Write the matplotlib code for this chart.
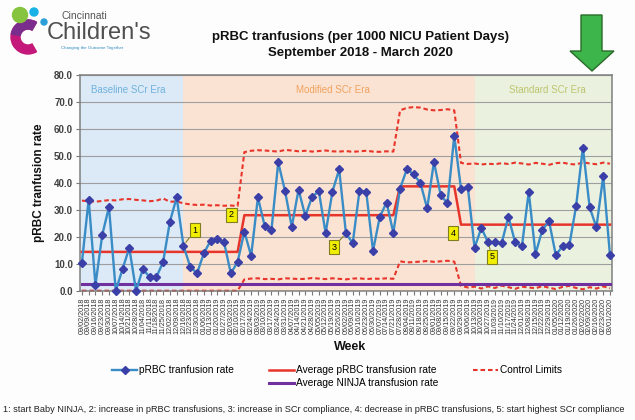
import numpy as np
import pandas as pd
import matplotlib
matplotlib.use("Agg")
import matplotlib.pyplot as plt
from matplotlib.lines import Line2D
from matplotlib.patches import Polygon, Circle, Wedge

plt.rcParams['font.family'] = ['Liberation Sans', 'DejaVu Sans']

# ---- data -------------------------------------------------------------
week_labels = pd.date_range("2018-09-02", periods=79, freq="7D").strftime("%m/%d/%Y").tolist()

prbc_rate = [10.4, 33.8, 2.1, 20.6, 31.1, 0.0, 8.0, 15.9, 0.0, 8.0,
             5.1, 5.0, 10.7, 25.6, 34.6, 16.7, 8.9, 6.4, 13.8, 18.5,
             19.1, 17.9, 6.4, 10.7, 21.9, 12.9, 34.6, 24.0, 22.5, 47.6,
             37.0, 23.7, 37.5, 27.7, 34.8, 36.9, 21.3, 36.7, 45.0, 21.3,
             17.6, 37.0, 36.7, 14.8, 27.4, 32.7, 21.5, 37.9, 45.1, 43.1,
             40.0, 30.5, 47.8, 35.4, 32.4, 57.4, 37.7, 38.5, 15.9, 23.3,
             17.9, 17.9, 17.6, 27.4, 17.9, 16.5, 36.7, 13.6, 22.5, 25.8,
             13.2, 16.5, 16.9, 31.4, 53.1, 30.9, 23.5, 42.5, 13.2]

# centre line: one mean per phase, held for the weeks of that phase
avg_levels = [14.4, 28.0, 38.7, 24.5]
avg_weeks = [24, 23, 9, 23]
avg_prbc = np.repeat(avg_levels, avg_weeks)

ninja_avg = [2.3] * 79

ucl = [33.4, 33.2, 33.0, 33.3, 33.6, 33.5, 33.9, 34.0, 33.7, 33.5,
       33.2, 33.4, 34.2, 33.0, 33.1, 32.4, 32.0, 31.8, 31.9, 31.6,
       31.7, 31.5, 31.6, 31.4,
       51.4, 51.9, 52.1, 52.0, 51.8, 51.6, 52.2, 52.0, 51.7, 51.9,
       51.6, 51.8, 52.0, 51.7, 51.6, 51.8, 51.5, 51.7, 51.9, 51.6,
       51.5, 51.7, 51.6,
       66.9, 67.8, 68.1, 67.9, 67.2, 66.9, 67.0, 67.3, 66.9,
       47.4, 47.0, 47.2, 46.8, 47.1, 46.9, 47.3, 47.0, 47.5, 47.2,
       46.8, 47.4, 47.1, 46.7, 47.3, 47.5, 47.0, 46.8, 47.6, 47.2,
       46.9, 47.5, 47.1]

lcl = [0.0] * 24 + \
      [4.2, 4.5, 4.6, 4.3, 4.4, 4.2, 4.6, 4.5, 4.3, 4.4,
       4.7, 4.5, 4.3, 4.6, 4.4, 4.2, 4.5, 4.6, 4.3, 4.5,
       4.4, 4.6, 4.4,
       10.9, 10.5, 10.6, 10.8, 11.0, 10.7, 10.9, 11.1, 10.8,
       1.8, 1.2, 1.5, 0.8, 1.6, 1.0, 1.9, 1.3, 0.7, 1.5,
       1.2, 0.9, 1.7, 1.1, 0.6, 1.4, 1.8, 1.0, 0.5, 1.3,
       0.8, 1.6, 0.9]

era_names = ["Baseline SCr Era", "Modified SCr Era", "Standard SCr Era"]
era_spans = [(-0.28, 15.0), (15.0, 58.0), (58.0, 78.3)]
era_fill = ["#DCE9F6", "#FBE3D3", "#EBF1DF"]
era_text = ["#6FB2DD", "#F0A25E", "#BCC46E"]
era_label_x = [6.8, 37.1, 68.8]

# numbered notes: label, box position (week, rate), week pointed at (None = no leader)
note_labels = ["1", "2", "3", "4", "5"]
note_box_x = [16.7, 22.1, 37.2, 54.8, 60.6]
note_box_y = [22.5, 28.1, 16.2, 21.4, 12.5]
note_target = [15, None, 39, None, 60]

footnote = ("1: start Baby NINJA, 2: increase in pRBC transfusions, 3: increase in SCr compliance, "
            "4: decrease in pRBC transfusions, 5: start highest SCr compliance")

# ---- figure -----------------------------------------------------------
W, H = 635, 420
fig = plt.figure(figsize=(W / 100, H / 100), dpi=100)
fig.patch.set_facecolor("#FDFDFD")

# pixel-space layer for header graphics and footnote
ov = fig.add_axes([0, 0, 1, 1])
ov.set_xlim(0, W)
ov.set_ylim(H, 0)
ov.axis("off")

# logo mark
ov.add_patch(Wedge((28, 37), 17, 60, 300, width=9, color="#C4197A", zorder=2))
ov.add_patch(Wedge((28, 37), 17, 190, 300, width=9, color="#7B2D8E", zorder=3))
ov.add_patch(Circle((20, 15), 7.5, color="#86C440", zorder=4))
ov.add_patch(Circle((34, 12), 4, color="#19B2E6", zorder=4))
ov.add_patch(Circle((44, 22), 3, color="#2C9ED8", zorder=4))
ov.text(61, 16, "Cincinnati", fontsize=7.5, color="#555555", va="center", ha="left")
ov.text(47, 33, "Children's", fontsize=17, color="#505050", va="center", ha="left")
ov.text(61, 48, "Changing the Outcome Together", fontsize=3.2, color="#2E8BC0", va="center", ha="left")

# title
ov.text(360, 37, "pRBC tranfusions (per 1000 NICU Patient Days)", fontsize=9.5,
        fontweight="bold", ha="center", va="center", color="#111111")
ov.text(360, 53, "September 2018 - March 2020", fontsize=9.5,
        fontweight="bold", ha="center", va="center", color="#111111")

# downward arrow
ov.add_patch(Polygon([(581, 15), (602, 15), (602, 51), (614, 51), (592, 71),
                      (570, 51), (581, 51)], closed=True, fc="#3DB54A",
                     ec="#2A6B2A", lw=1.0, zorder=5))

ov.text(350, 347, "Week", fontsize=9, fontweight="bold", ha="center", va="center", color="#111111")
ov.text(3, 409, footnote, fontsize=6.6, ha="left", va="center", color="#222222")

# ---- chart ------------------------------------------------------------
ax = fig.add_axes([80 / W, 1 - 290.7 / H, 532 / W, 215.7 / H])
weeks = np.arange(len(prbc_rate))

for (x0, x1), fc in zip(era_spans, era_fill):
    ax.axvspan(x0, x1, color=fc, zorder=0, lw=0)
for name, col, lx in zip(era_names, era_text, era_label_x):
    ax.text(lx, 74.6, name, color=col, fontsize=7, ha="center", va="center", zorder=1)

ax.plot(weeks, ucl, color="#E8352B", lw=1.5, ls=(0, (2.2, 1.4)), zorder=2, clip_on=False)
ax.plot(weeks, lcl, color="#E8352B", lw=1.5, ls=(0, (2.2, 1.4)), zorder=2, clip_on=False)
ax.plot(weeks, ninja_avg, color="#7030A0", lw=2.2, zorder=3)
ax.plot(weeks, avg_prbc, color="#E8352B", lw=1.8, zorder=3)
ax.plot(weeks, prbc_rate, color="#3A8CC6", lw=1.7, marker="D", markersize=4.4,
        markerfacecolor="#3B3FA8", markeredgecolor="#3B3FA8", zorder=4, clip_on=False)

box_style = dict(boxstyle="square,pad=0.3", fc="#F2EE00", ec="#7F7F20", lw=0.8)
for lab, bx, by, tgt in zip(note_labels, note_box_x, note_box_y, note_target):
    if tgt is None:
        ax.text(bx, by, lab, fontsize=6.5, ha="center", va="center", bbox=box_style, zorder=6)
    else:
        ax.annotate(lab, xy=(tgt, prbc_rate[tgt]), xytext=(bx, by), fontsize=6.5,
                    ha="center", va="center", bbox=box_style, zorder=6,
                    arrowprops=dict(arrowstyle="-", color="#7F7F20", lw=0.8,
                                    shrinkA=0, shrinkB=3))

ax.set_xlim(-0.28, 78.3)
ax.set_ylim(0, 80)
ax.set_yticks(np.arange(0, 81, 10))
ax.set_yticklabels([f"{v:.1f}" for v in np.arange(0, 81, 10)], fontsize=7,
                   fontweight="bold", color="#404040")
ax.set_xticks(weeks)
ax.set_xticklabels(week_labels, rotation=90, fontsize=5.2, color="#333333")
ax.tick_params(axis="x", length=3, pad=2, color="#777777")
ax.tick_params(axis="y", length=3, pad=2, color="#777777")
ax.yaxis.grid(True, color="#9E9E9E", lw=0.8, zorder=0.5)
ax.set_axisbelow(True)
for s in ax.spines.values():
    s.set_color("#7F7F7F")
    s.set_linewidth(1.1)

ax.set_ylabel("pRBC tranfusion rate", fontsize=8.5, fontweight="bold", color="#111111")
ax.yaxis.set_label_coords(-0.066, 0.5)

# legend laid out in two rows of three columns
blank = Line2D([], [], linestyle="none")
h_rate = Line2D([], [], color="#3A8CC6", lw=1.7, marker="D", markersize=4,
                markerfacecolor="#3B3FA8", markeredgecolor="#3B3FA8")
h_avg = Line2D([], [], color="#E8352B", lw=1.8)
h_ninja = Line2D([], [], color="#7030A0", lw=2.2)
h_cl = Line2D([], [], color="#E8352B", lw=1.5, ls=(0, (2.2, 1.4)))
fig.legend([h_rate, blank, h_avg, h_ninja, h_cl, blank],
           ["pRBC tranfusion rate", "", "Average pRBC transfusion rate",
            "Average NINJA transfusion rate", "Control Limits", ""],
           ncol=3, loc="upper center", bbox_to_anchor=(0.531, 1 - 360 / H),
           frameon=False, fontsize=7.3, handlelength=2.5, handletextpad=0.2,
           columnspacing=3.4, labelspacing=0.3, borderpad=0)

fig.savefig("out.png", dpi=100, facecolor=fig.get_facecolor())
